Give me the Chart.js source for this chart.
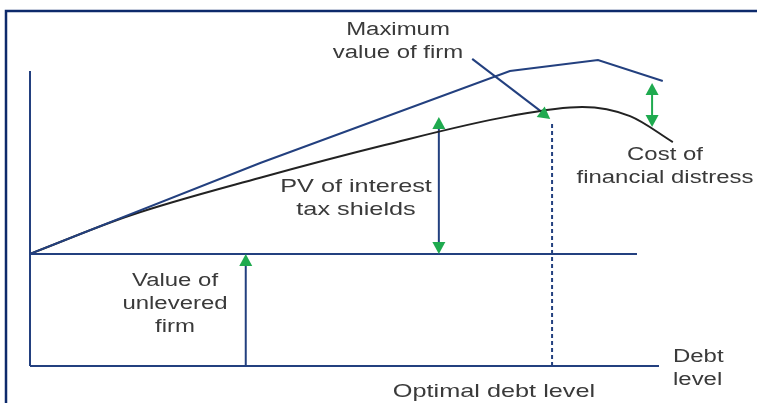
<!DOCTYPE html>
<html>
<head>
<meta charset="utf-8">
<script src="https://cdn.jsdelivr.net/npm/chart.js@4.4.1/dist/chart.umd.min.js"></script>
<style>
  html, body { margin: 0; padding: 0; background: #fff; }
  canvas { display: block; }
</style>
</head>
<body>
<canvas id="tradeoff" width="757" height="403"></canvas>
<script>
// firm value vs debt level (0-100 scale on both axes)
const leveredDebt = [0, 36.6, 76.3, 90.3, 100.6];
const leveredValue = [38, 68.8, 100, 103.7, 96.6];      // value with tax shields only
const actualDebt = [0, 15.9, 36.6, 56.4, 76.3, 87.8, 95.4, 102.2];
const actualValue = [38, 51.0, 63.8, 74.9, 84.7, 87.8, 84.7, 75.9]; // after distress costs
const unleveredValue = 38;
const unleveredLineEnd = 96.5;
const optimalDebt = 83;
const optimalTop = 82.7;
const unleveredArrowDebt = 34.3;
const shieldArrowDebt = 65;
const shieldArrowTop = 84.4;
const distressDebt = 98.9;
const distressRange = [81, 95.9];
const maxPointerFrom = [70.3, 104.1];
const maxPointerTo = [82.7, 83.7];

const NAVY = '#23407f';
const GREEN = '#1faa4f';
const TEXT = '#3a3a3a';

function pts(xs, ys) {
  return xs.map((x, i) => ({ x: x, y: ys[i] }));
}
function seg(x1, y1, x2, y2) {
  return [{ x: x1, y: y1 }, { x: x2, y: y2 }];
}
function lineSet(data, color, extra) {
  return Object.assign({
    data: data,
    borderColor: color,
    borderWidth: 2,
    pointRadius: 0,
    showLine: true,
    fill: false,
    tension: 0,
    clip: false
  }, extra || {});
}

// arrow heads: [x, y, direction x, direction y] in data units
const heads = [
  [unleveredArrowDebt, unleveredValue, 0, 1],
  [shieldArrowDebt, shieldArrowTop, 0, 1],
  [shieldArrowDebt, unleveredValue, 0, -1],
  [distressDebt, distressRange[1], 0, 1],
  [distressDebt, distressRange[0], 0, -1],
  [maxPointerTo[0], maxPointerTo[1], 'from', maxPointerFrom]
];

const labels = [
  { lines: ['Maximum', 'value of firm'], x: 398, y: 35, size: 18, align: 'center' },
  { lines: ['PV of interest', 'tax shields'], x: 356, y: 192, size: 19, align: 'center' },
  { lines: ['Value of', 'unlevered', 'firm'], x: 175, y: 286, size: 18, align: 'center' },
  { lines: ['Cost of', 'financial distress'], x: 665, y: 160, size: 18, align: 'center' },
  { lines: ['Debt', 'level'], x: 673, y: 362, size: 18, align: 'left' },
  { lines: ['Optimal debt level'], x: 494, y: 397, size: 19, align: 'center' }
];

const decor = {
  id: 'decor',
  beforeDraw(chart) {
    const ctx = chart.ctx;
    ctx.save();
    ctx.strokeStyle = '#0d2a6b';
    ctx.lineWidth = 2.5;
    ctx.beginPath();
    ctx.moveTo(6, 403);
    ctx.lineTo(6, 11);
    ctx.lineTo(757, 11);
    ctx.stroke();
    ctx.restore();
  },
  afterDatasetsDraw(chart) {
    const ctx = chart.ctx;
    const xs = chart.scales.x, ys = chart.scales.y;
    ctx.save();
    ctx.fillStyle = GREEN;
    heads.forEach(h => {
      const tx = xs.getPixelForValue(h[0]);
      const ty = ys.getPixelForValue(h[1]);
      let ang;
      if (h[2] === 'from') {
        const fx = xs.getPixelForValue(h[3][0]);
        const fy = ys.getPixelForValue(h[3][1]);
        ang = Math.atan2(ty - fy, tx - fx);
      } else {
        ang = Math.atan2(-h[3], h[2]);
      }
      const len = 12, half = 6.5;
      ctx.beginPath();
      ctx.moveTo(tx, ty);
      ctx.lineTo(tx - len * Math.cos(ang) - half * Math.sin(ang), ty - len * Math.sin(ang) + half * Math.cos(ang));
      ctx.lineTo(tx - len * Math.cos(ang) + half * Math.sin(ang), ty - len * Math.sin(ang) - half * Math.cos(ang));
      ctx.closePath();
      ctx.fill();
    });
    ctx.restore();
  },
  afterDraw(chart) {
    const ctx = chart.ctx;
    ctx.save();
    ctx.fillStyle = TEXT;
    ctx.textBaseline = 'alphabetic';
    labels.forEach(l => {
      ctx.font = l.size + 'px "Liberation Sans", Arial, sans-serif';
      ctx.textAlign = l.align;
      l.lines.forEach((t, i) => {
        ctx.save();
        ctx.translate(l.x, l.y + i * 23);
        ctx.scale(1.33, 1);
        ctx.fillText(t, 0, 0);
        ctx.restore();
      });
    });
    ctx.restore();
  }
};

new Chart(document.getElementById('tradeoff'), {
  type: 'scatter',
  data: {
    datasets: [
      lineSet(seg(0, 0, 0, 100), NAVY),
      lineSet(seg(0, 0, 100, 0), NAVY),
      lineSet(seg(0, unleveredValue, unleveredLineEnd, unleveredValue), NAVY),
      lineSet(pts(leveredDebt, leveredValue), NAVY),
      lineSet(pts(actualDebt, actualValue), '#222222', { cubicInterpolationMode: 'monotone' }),
      lineSet(seg(optimalDebt, 0, optimalDebt, optimalTop), NAVY, { borderDash: [4, 3] }),
      lineSet(seg(unleveredArrowDebt, 0, unleveredArrowDebt, unleveredValue - 3), NAVY),
      lineSet(seg(shieldArrowDebt, unleveredValue + 3, shieldArrowDebt, shieldArrowTop - 3), NAVY),
      lineSet(seg(maxPointerFrom[0], maxPointerFrom[1], maxPointerTo[0] - 1.2, maxPointerTo[1] + 2.2), NAVY),
      lineSet(seg(distressDebt, distressRange[0] + 3, distressDebt, distressRange[1] - 3), GREEN)
    ]
  },
  options: {
    responsive: false,
    animation: false,
    layout: { padding: { left: 30, right: 98, top: 71, bottom: 37 } },
    plugins: { legend: { display: false }, tooltip: { enabled: false } },
    scales: {
      x: { type: 'linear', min: 0, max: 100, display: false },
      y: { type: 'linear', min: 0, max: 100, display: false }
    }
  },
  plugins: [decor]
});
</script>
</body>
</html>
